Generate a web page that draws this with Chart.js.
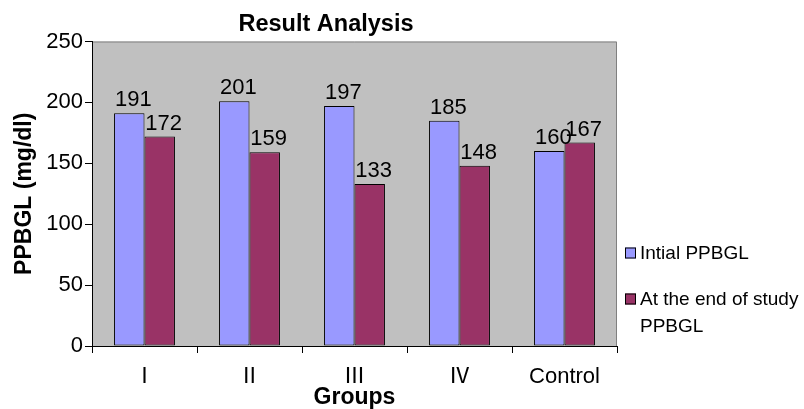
<!DOCTYPE html>
<html>
<head>
<meta charset="utf-8">
<script src="https://cdn.jsdelivr.net/npm/chart.js@4.4.1/dist/chart.umd.min.js"></script>
<style>
  html, body { margin: 0; padding: 0; background: #fff; }
</style>
</head>
<body>
<canvas id="chart" width="804" height="409"></canvas>
<script>
const groups = ['Ⅰ', 'Ⅱ', 'Ⅲ', 'Ⅳ', 'Control'];
const initialPPBGL = [191, 201, 197, 185, 160];
const endOfStudyPPBGL = [172, 159, 133, 148, 167];
const seriesLabels = ['Intial PPBGL', 'At the end of study PPBGL'];
const legendLines = [['Intial PPBGL'], ['At the end of study', 'PPBGL']];
const seriesColors = ['#9999FF', '#993366'];
const yMin = 0, yMax = 250, yStep = 50;

Chart.defaults.font.family = "'Liberation Sans', Arial, 'Noto Sans CJK JP', sans-serif";
Chart.defaults.color = '#000';

// gray plot area like the old Excel chart
const plotBackground = {
    id: 'plotBackground',
    beforeDraw(chart) {
        const { ctx, chartArea: a } = chart;
        ctx.save();
        ctx.fillStyle = '#C0C0C0';
        ctx.fillRect(a.left, a.top, a.right - a.left, a.bottom - a.top);
        ctx.strokeStyle = '#808080';
        ctx.lineWidth = 1;
        ctx.beginPath();
        ctx.moveTo(a.left, a.top + 0.5);
        ctx.lineTo(a.right - 0.5, a.top + 0.5);
        ctx.lineTo(a.right - 0.5, a.bottom);
        ctx.stroke();
        ctx.restore();
    }
};

const valueLabels = {
    id: 'valueLabels',
    afterDatasetsDraw(chart) {
        const ctx = chart.ctx;
        ctx.save();
        ctx.font = "22px 'Liberation Sans', Arial, sans-serif";
        ctx.fillStyle = '#000';
        ctx.textAlign = 'center';
        ctx.textBaseline = 'alphabetic';
        chart.data.datasets.forEach((ds, i) => {
            chart.getDatasetMeta(i).data.forEach((bar, j) => {
                ctx.fillText(String(ds.data[j]), bar.x + 4, bar.y - 7);
            });
        });
        ctx.restore();
    }
};

const sideLegend = {
    id: 'sideLegend',
    afterDraw(chart) {
        const { ctx, chartArea: a } = chart;
        const x = a.right + 8;
        let top = a.top + 206;
        ctx.save();
        ctx.font = "19px 'Liberation Sans', Arial, sans-serif";
        ctx.textBaseline = 'alphabetic';
        ctx.textAlign = 'left';
        legendLines.forEach((lines, i) => {
            ctx.fillStyle = seriesColors[i];
            ctx.fillRect(x, top, 11, 11);
            ctx.strokeStyle = '#000';
            ctx.lineWidth = 1;
            ctx.strokeRect(x + 0.5, top + 0.5, 10, 10);
            ctx.fillStyle = '#000';
            lines.forEach((line, k) => {
                ctx.fillText(line, x + 15, top + 11 + k * 27);
            });
            top += 46;
        });
        ctx.restore();
    }
};

const barStyle = {
    borderColor: '#000',
    borderWidth: 1,
    borderSkipped: false,
    categoryPercentage: 0.58,
    barPercentage: 1
};

new Chart(document.getElementById('chart'), {
    type: 'bar',
    data: {
        labels: groups,
        datasets: [
            { label: seriesLabels[0], data: initialPPBGL, backgroundColor: seriesColors[0], ...barStyle },
            { label: seriesLabels[1], data: endOfStudyPPBGL, backgroundColor: seriesColors[1], ...barStyle }
        ]
    },
    options: {
        responsive: false,
        animation: false,
        devicePixelRatio: 1,
        layout: { padding: { left: 35, right: 187, top: 0, bottom: 0 } },
        plugins: {
            legend: { display: false },
            tooltip: { enabled: false },
            title: {
                display: true,
                text: 'Result Analysis',
                color: '#000',
                font: { size: 23.5, weight: 'bold', lineHeight: 1 },
                padding: { top: 13, bottom: 5 }
            }
        },
        scales: {
            x: {
                offset: true,
                grid: { offset: true, drawOnChartArea: false, drawTicks: true, tickLength: 7, color: '#000', tickColor: '#000' },
                border: { color: '#000', width: 1 },
                ticks: { color: '#000', font: { size: 22, lineHeight: 1 }, padding: 13, maxRotation: 0, autoSkip: false },
                title: {
                    display: true,
                    text: 'Groups',
                    color: '#000',
                    font: { size: 23, weight: 'bold', lineHeight: 1 },
                    padding: { top: 0, bottom: 0 }
                },
                afterFit: scale => { scale.height = 63; }
            },
            y: {
                min: yMin,
                max: yMax,
                grid: { drawOnChartArea: false, drawTicks: true, tickLength: 7, color: '#000', tickColor: '#000' },
                border: { color: '#000', width: 1 },
                ticks: { stepSize: yStep, color: '#000', font: { size: 22 }, padding: 2 },
                title: {
                    display: true,
                    text: 'PPBGL (mg/dl)',
                    color: '#000',
                    font: { size: 23, weight: 'bold', lineHeight: 1 },
                    padding: { top: -22, bottom: 0 }
                },
                afterFit: scale => { scale.width = 57; }
            }
        }
    },
    plugins: [plotBackground, valueLabels, sideLegend]
});
</script>
</body>
</html>
